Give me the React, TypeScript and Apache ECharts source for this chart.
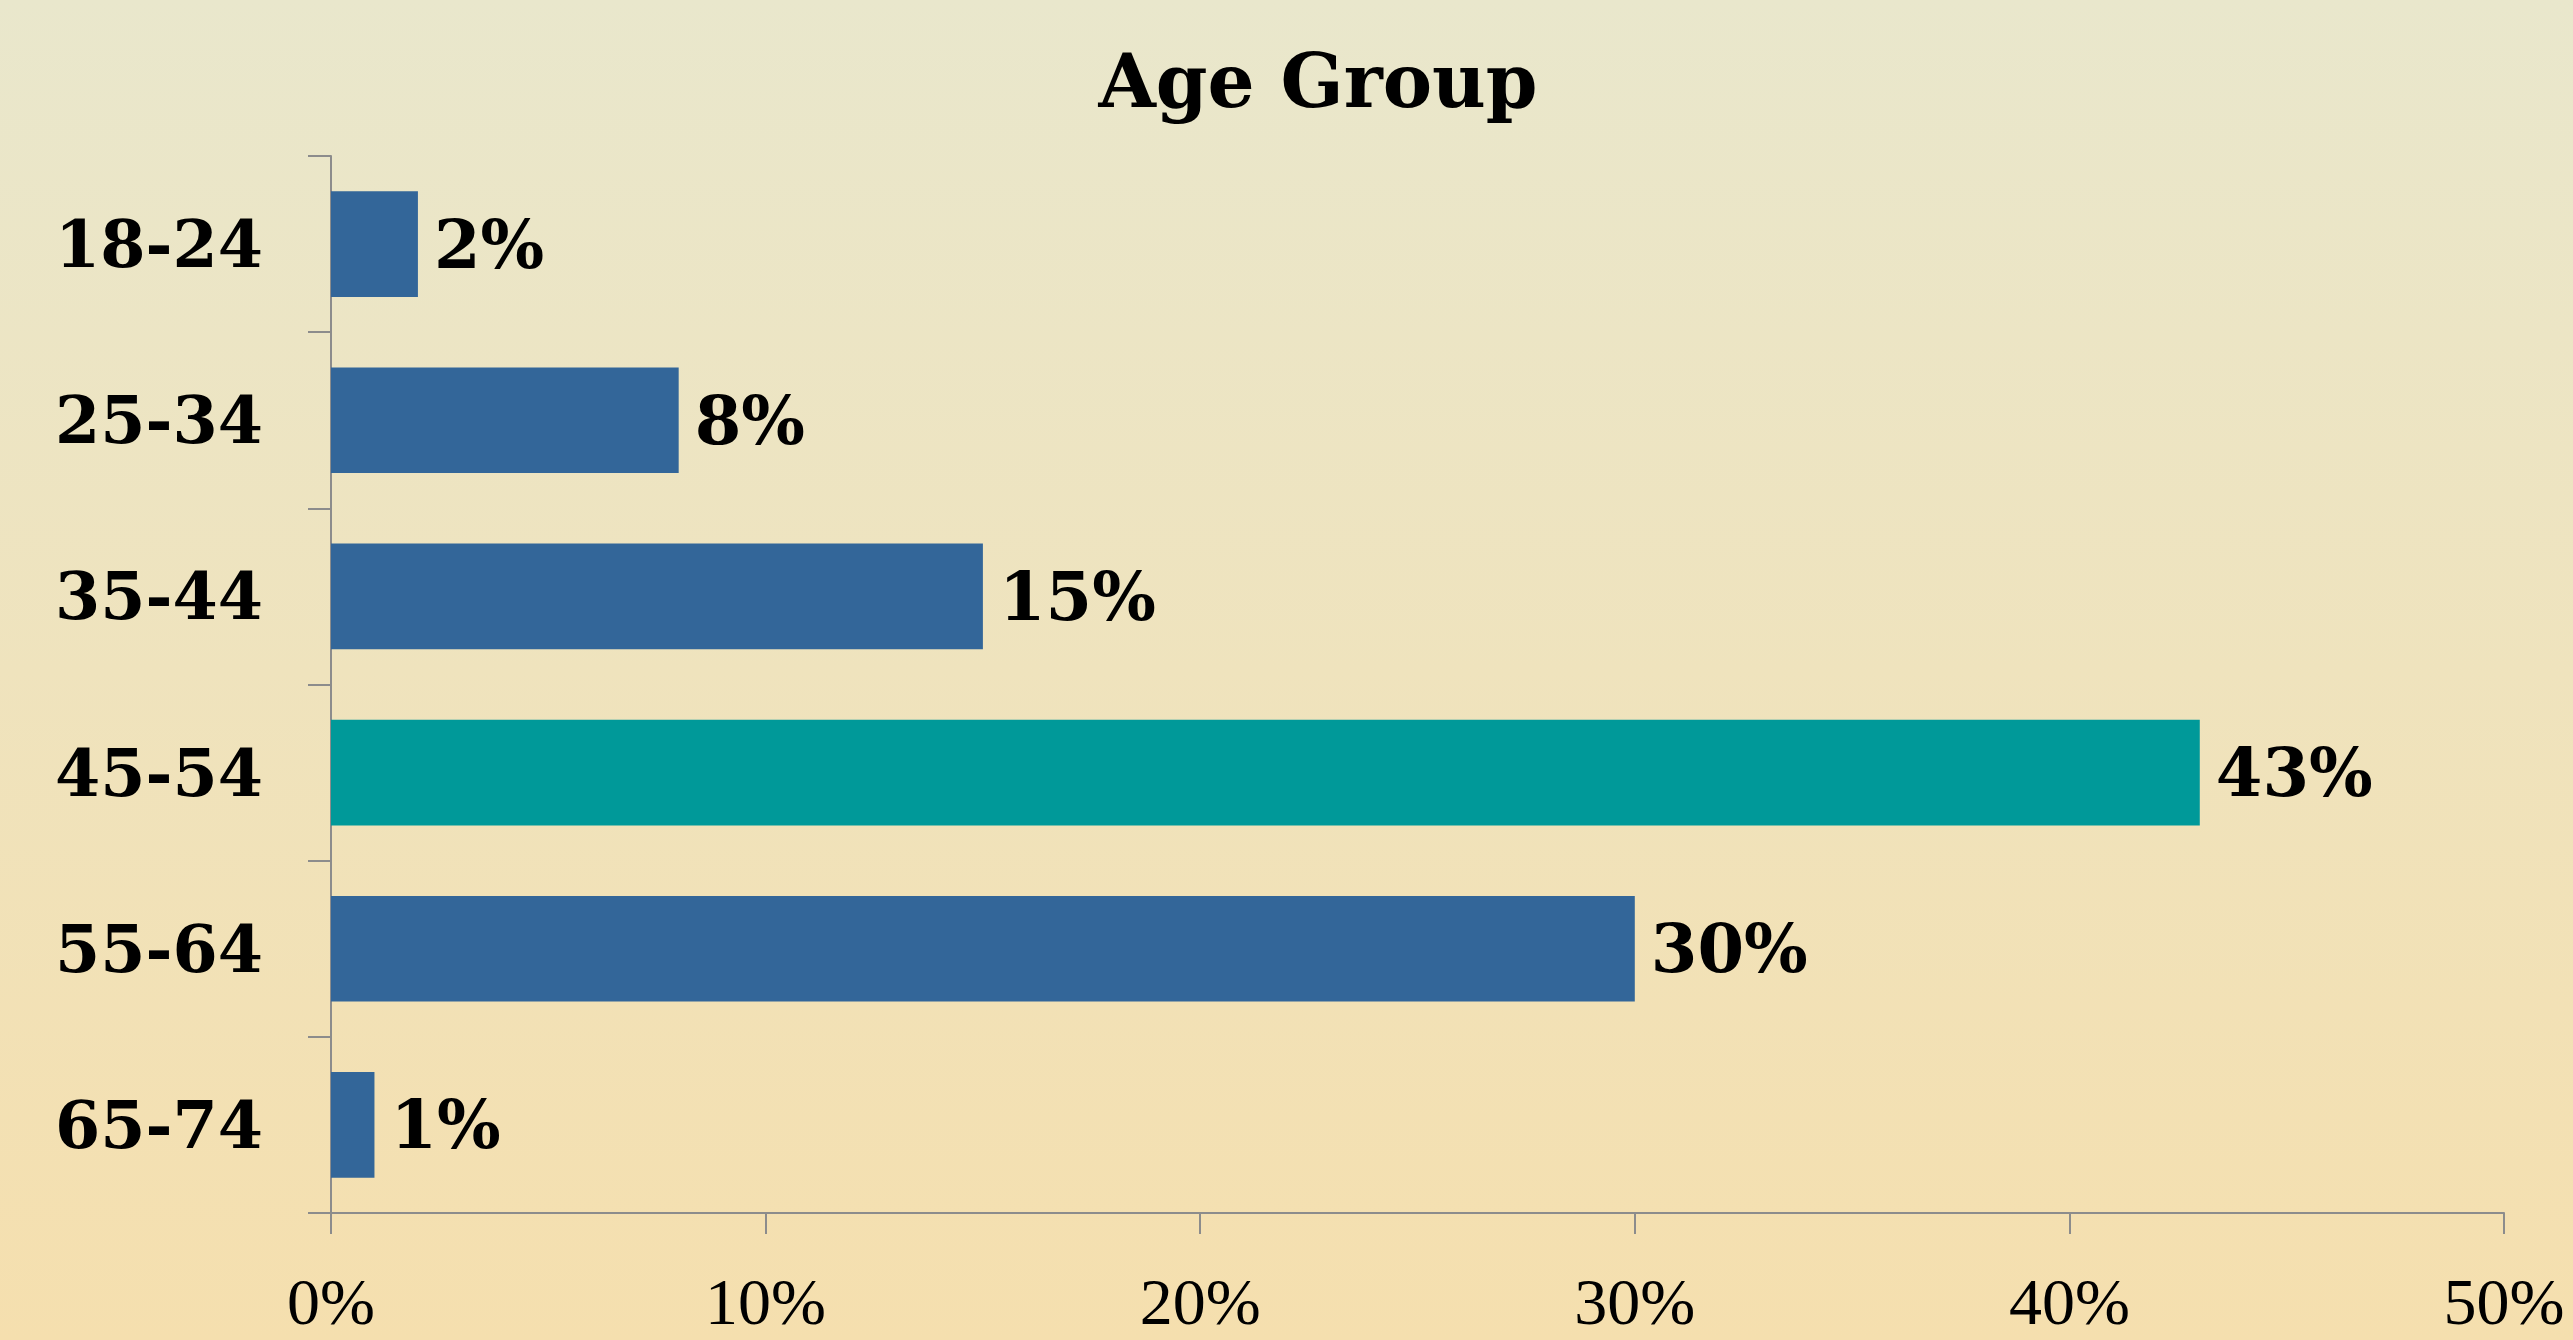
import React, { useEffect, useRef } from "react";
import * as echarts from "echarts";

const categories = ["18-24", "25-34", "35-44", "45-54", "55-64", "65-74"];
const values = [2, 8, 15, 43, 30, 1];
const highlightCategory = "45-54";
const xTicks = { min: 0, max: 50, interval: 10 };

const BAR = "#336699";
const HIGHLIGHT = "#009999";
const AXIS = "#8c8c8c";

export default function App() {
  const ref = useRef<HTMLDivElement>(null);
  useEffect(() => {
    document.body.style.margin = "0";
    const chart = echarts.init(ref.current!, null, { renderer: "svg" });
    chart.setOption({
      animation: false,
      backgroundColor: new echarts.graphic.LinearGradient(0, 0, 0, 1, [
        { offset: 0, color: "#E9E7CC" },
        { offset: 1, color: "#F5DFAE" },
      ]),
      title: {
        text: "Age Group",
        left: 1318,
        textAlign: "center",
        top: 44,
        padding: 0,
        textStyle: {
          fontFamily: "DejaVu Serif",
          fontWeight: "bold",
          fontSize: 74,
          color: "#000",
        },
      },
      grid: { left: 331, right: 69, top: 156, bottom: 127, containLabel: false },
      xAxis: {
        type: "value",
        min: xTicks.min,
        max: xTicks.max,
        interval: xTicks.interval,
        splitLine: { show: false },
        axisLine: { show: true, lineStyle: { color: AXIS, width: 2 } },
        axisTick: { show: true, length: 21, lineStyle: { color: AXIS, width: 2 } },
        axisLabel: {
          formatter: "{value}%",
          fontFamily: "Liberation Serif",
          fontSize: 66,
          lineHeight: 56,
          color: "#000",
          margin: 60,
        },
      },
      yAxis: {
        type: "category",
        data: categories,
        inverse: true,
        axisLine: { show: true, lineStyle: { color: AXIS, width: 2 } },
        axisTick: { show: true, length: 23, lineStyle: { color: AXIS, width: 2 } },
        axisLabel: {
          fontFamily: "DejaVu Serif",
          fontWeight: "bold",
          fontSize: 65,
          color: "#000",
          margin: 68,
          padding: [8, 0, 0, 0],
        },
      },
      series: [
        {
          type: "bar",
          barCategoryGap: "40%",
          data: values.map((v, i) => ({
            value: v,
            itemStyle: { color: categories[i] === highlightCategory ? HIGHLIGHT : BAR },
          })),
          label: {
            show: true,
            position: "right",
            distance: 16,
            formatter: "{c}%",
            fontFamily: "DejaVu Serif",
            fontWeight: "bold",
            fontSize: 67,
            color: "#000",
          },
        },
      ],
    });
    return () => chart.dispose();
  }, []);
  return (
    <div
      ref={ref}
      style={{ position: "absolute", left: 0, top: 0, width: 2573, height: 1340 }}
    />
  );
}
